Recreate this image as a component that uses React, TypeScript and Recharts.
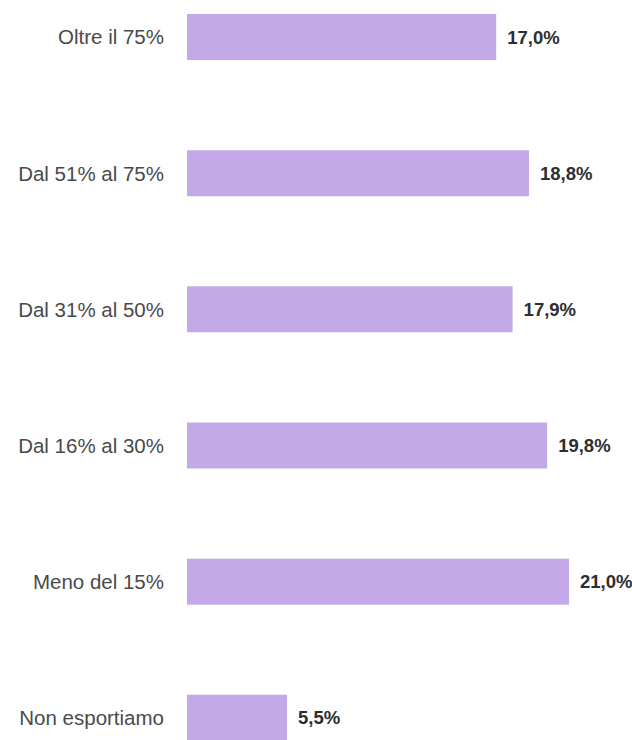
import { BarChart, Bar, XAxis, YAxis, LabelList } from "recharts";

const categorie = ["Oltre il 75%", "Dal 51% al 75%", "Dal 31% al 50%", "Dal 16% al 30%", "Meno del 15%", "Non esportiamo"];
const percentuali = [17.0, 18.8, 17.9, 19.8, 21.0, 5.5];

const data = categorie.map((name, i) => ({ name, value: percentuali[i] }));

const fmt = (v: number) => v.toFixed(1).replace(".", ",") + "%";

export default function App() {
  return (
    <div
      style={{
        position: "absolute",
        top: 0,
        left: 0,
        width: 632,
        height: 740,
        overflow: "hidden",
        background: "#fff",
        fontFamily: "'Liberation Sans', Arial, sans-serif",
      }}
    >
      <div style={{ marginTop: -31 }}>
        <BarChart width={632} height={817} data={data} layout="vertical" margin={{ top: 0, right: 63, left: 0, bottom: 0 }}>
          <XAxis type="number" domain={[0, 21]} hide />
          <YAxis
            type="category"
            dataKey="name"
            width={187}
            axisLine={false}
            tickLine={false}
            tickSize={0}
            tickMargin={23}
            tick={{ fill: "#4a4a4a", fontSize: 20.5 }}
          />
          <Bar dataKey="value" fill="#C3A9E7" barSize={46} isAnimationActive={false}>
            <LabelList
              dataKey="value"
              position="right"
              offset={11}
              formatter={(v: any) => fmt(Number(v))}
              style={{ fill: "#2e2e2e", fontSize: 18.5, fontWeight: "bold" }}
            />
          </Bar>
        </BarChart>
      </div>
    </div>
  );
}
